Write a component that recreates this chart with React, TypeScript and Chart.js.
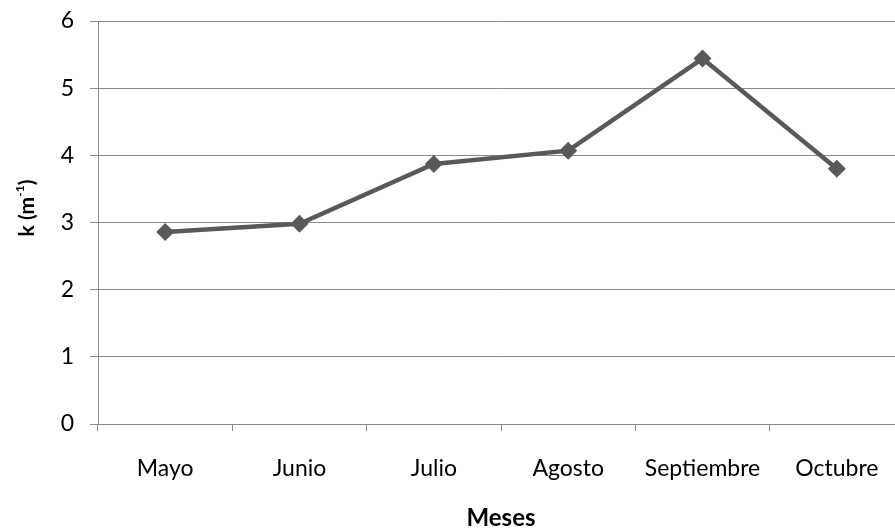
import React, { useEffect, useRef } from "react";
import { Chart, registerables } from "chart.js";

Chart.register(...registerables);

// Monthly attenuation coefficient k (m^-1)
const months = ["Mayo", "Junio", "Julio", "Agosto", "Septiembre", "Octubre"];
const kValues = [2.86, 2.98, 3.87, 4.07, 5.44, 3.8];
const yTicks = [0, 1, 2, 3, 4, 5, 6];
const xTitle = "Meses";
const yTitleMain = "k (m";
const yTitleSup = "-1";
const yTitleEnd = ")";

const FONT = "Lato, 'Open Sans', sans-serif";
const LINE = "#595959";
const GRID = "#8a8a8a";

// Axis titles drawn by hand so the y title can carry a superscript
const axisTitles = {
  id: "axisTitles",
  afterDraw(chart: any) {
    const { ctx, chartArea } = chart;
    ctx.save();
    ctx.fillStyle = "#000";
    ctx.textBaseline = "middle";
    ctx.textAlign = "center";
    ctx.font = `bold 24px ${FONT}`;
    ctx.fillText(xTitle, (chartArea.left + chartArea.right) / 2, chartArea.bottom + 94);

    // y title, rotated
    ctx.translate(27, 208);
    ctx.rotate(-Math.PI / 2);
    const mainFont = `bold 21px ${FONT}`;
    const supFont = `bold 12px ${FONT}`;
    ctx.font = mainFont;
    const w1 = ctx.measureText(yTitleMain).width;
    const w3 = ctx.measureText(yTitleEnd).width;
    ctx.font = supFont;
    const w2 = ctx.measureText(yTitleSup).width;
    const total = w1 + w2 + w3;
    let x = -total / 2;
    ctx.textAlign = "left";
    ctx.font = mainFont;
    ctx.fillText(yTitleMain, x, 0);
    x += w1;
    ctx.font = supFont;
    ctx.fillText(yTitleSup, x, -7);
    x += w2;
    ctx.font = mainFont;
    ctx.fillText(yTitleEnd, x, 0);
    ctx.restore();
  },
};

export default function App() {
  const ref = useRef<HTMLCanvasElement>(null);

  useEffect(() => {
    document.body.style.margin = "0";
    document.body.style.overflow = "hidden";
    const canvas = ref.current!;
    const chart = new Chart(canvas, {
      type: "line",
      data: {
        labels: months,
        datasets: [
          {
            data: kValues,
            borderColor: LINE,
            backgroundColor: LINE,
            borderWidth: 4.5,
            pointStyle: "rectRot",
            pointRadius: 9,
            pointBorderWidth: 0,
            pointBackgroundColor: LINE,
            tension: 0,
          },
        ],
      },
      options: {
        responsive: false,
        animation: false,
        events: [],
        layout: { padding: { top: 21, left: 0, right: 0, bottom: 0 } },
        plugins: {
          legend: { display: false },
          tooltip: { enabled: false },
        },
        scales: {
          x: {
            type: "category",
            offset: true,
            grid: {
              offset: true,
              drawOnChartArea: false,
              drawTicks: true,
              tickLength: 7,
              color: GRID,
            },
            border: { color: GRID, width: 1 },
            ticks: {
              color: "#000",
              padding: 24,
              font: { family: FONT, size: 23 },
              maxRotation: 0,
              autoSkip: false,
            },
            afterFit(scale: any) {
              scale.height = 105;
              scale.paddingLeft = 0;
              scale.paddingRight = 0;
            },
          },
          y: {
            min: 0,
            max: 6,
            afterBuildTicks(scale: any) {
              scale.ticks = yTicks.map((v) => ({ value: v }));
            },
            grid: {
              color: GRID,
              tickLength: 8,
              drawTicks: true,
            },
            border: { color: GRID, width: 1 },
            ticks: {
              color: "#000",
              padding: 16,
              font: { family: FONT, size: 23 },
            },
            afterFit(scale: any) {
              scale.width = 98;
              scale.paddingTop = 0;
              scale.paddingBottom = 0;
            },
          },
        },
      },
      plugins: [axisTitles],
    });
    return () => chart.destroy();
  }, []);

  return (
    <div style={{ width: 913, height: 529, position: "relative" }}>
      <canvas ref={ref} width={913} height={529} style={{ display: "block" }} />
    </div>
  );
}
